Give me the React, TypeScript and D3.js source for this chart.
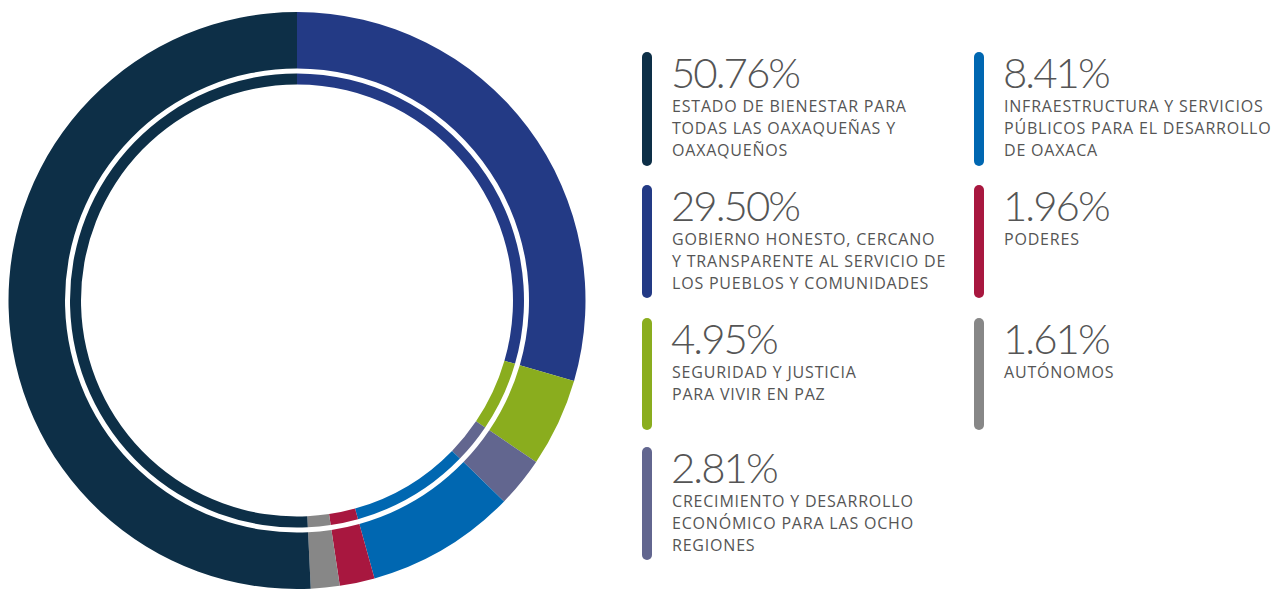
import React from "react";
import * as d3 from "d3";

const categories = [
  "GOBIERNO HONESTO, CERCANO Y TRANSPARENTE AL SERVICIO DE LOS PUEBLOS Y COMUNIDADES",
  "SEGURIDAD Y JUSTICIA PARA VIVIR EN PAZ",
  "CRECIMIENTO Y DESARROLLO ECONÓMICO PARA LAS OCHO REGIONES",
  "INFRAESTRUCTURA Y SERVICIOS PÚBLICOS PARA EL DESARROLLO DE OAXACA",
  "PODERES",
  "AUTÓNOMOS",
  "ESTADO DE BIENESTAR PARA TODAS LAS OAXAQUEÑAS Y OAXAQUEÑOS",
];
const values = [29.5, 4.95, 2.81, 8.41, 1.96, 1.61, 50.76];
const colors = ["#233a85", "#8aad1e", "#62668f", "#0067b1", "#a8173f", "#878787", "#0d2f47"];

// legend: index into categories, column, row, wrapped label lines
const legendOrder = [6, 0, 1, 2, 3, 4, 5];
const legendCol = [0, 0, 0, 0, 1, 1, 1];
const legendRow = [0, 1, 2, 3, 0, 1, 2];
const legendLines = [
  ["ESTADO DE BIENESTAR PARA", "TODAS LAS OAXAQUEÑAS Y", "OAXAQUEÑOS"],
  ["GOBIERNO HONESTO, CERCANO", "Y TRANSPARENTE AL SERVICIO DE", "LOS PUEBLOS Y COMUNIDADES"],
  ["SEGURIDAD Y JUSTICIA", "PARA VIVIR EN PAZ"],
  ["CRECIMIENTO Y DESARROLLO", "ECONÓMICO PARA LAS OCHO", "REGIONES"],
  ["INFRAESTRUCTURA Y SERVICIOS", "PÚBLICOS PARA EL DESARROLLO", "DE OAXACA"],
  ["PODERES"],
  ["AUTÓNOMOS"],
];

const W = 1281;
const H = 592;
const cx = 297;
const cy = 300.5;

export default function App() {
  const pie = d3.pie<number>().sort(null).value((d) => d);
  const arcs = pie(values);
  const outer = d3.arc<d3.PieArcDatum<number>>().innerRadius(232).outerRadius(288.5);
  const inner = d3.arc<d3.PieArcDatum<number>>().innerRadius(216).outerRadius(227);

  const colX = [642, 974];
  const rowY = [52, 185, 318, 447];
  const barH = [114, 113, 112, 113];

  return (
    <svg width={W} height={H} style={{ position: "absolute", left: 0, top: 0, background: "#fff" }}>
      <g transform={`translate(${cx},${cy})`}>
        {arcs.map((a, i) => (
          <path key={"o" + i} d={outer(a) || ""} fill={colors[i]} />
        ))}
        {arcs.map((a, i) => (
          <path key={"i" + i} d={inner(a) || ""} fill={colors[i]} />
        ))}
      </g>
      {legendOrder.map((ci, k) => {
        const x = colX[legendCol[k]];
        const y = rowY[legendRow[k]];
        return (
          <g key={"l" + k}>
            <rect x={x} y={y} width={10} height={barH[legendRow[k]]} rx={5} fill={colors[ci]} />
            <text
              x={x + 29}
              y={y + 36}
              fontFamily="Lato, 'Open Sans', sans-serif"
              fontWeight={300}
              fontSize={42}
              letterSpacing={-2}
              fill="#555"
            >
              {values[ci].toFixed(2) + "%"}
            </text>
            {legendLines[k].map((ln, j) => (
              <text
                key={j}
                x={x + 30}
                y={y + 60 + j * 22}
                fontFamily="'Open Sans', sans-serif"
                fontSize={16}
                letterSpacing={0.8}
                fill="#555"
              >
                {ln}
              </text>
            ))}
          </g>
        );
      })}
    </svg>
  );
}
